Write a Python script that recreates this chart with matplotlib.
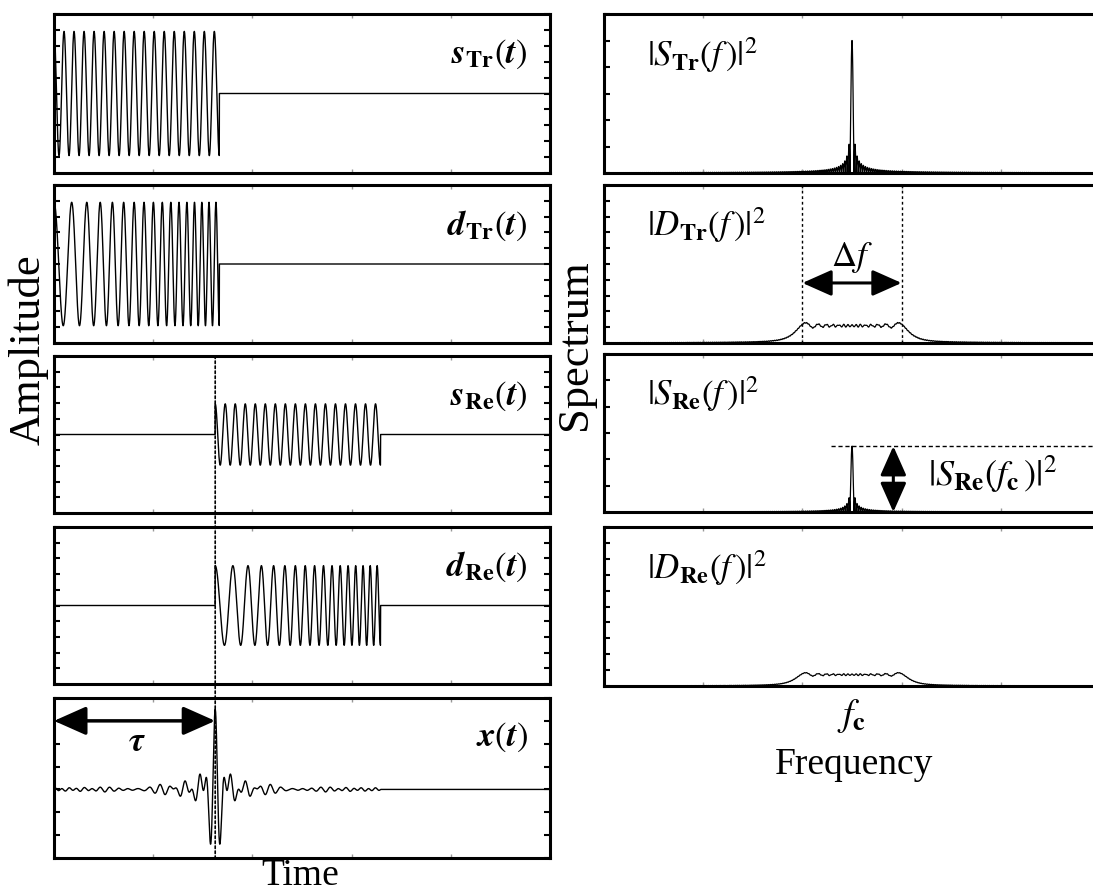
import numpy as np
import matplotlib
matplotlib.use("Agg")
import matplotlib.pyplot as plt
from matplotlib.patches import ConnectionPatch
from matplotlib.transforms import blended_transform_factory

plt.rcParams["font.family"] = ["Liberation Serif", "DejaVu Serif"]
plt.rcParams["mathtext.fontset"] = "stix"

# Pulse parameters, time axis runs from 0 to 1.
t_pulse = 1 / 3
f_carrier = 49.5
chirp_bw = 48.0
delay = 0.325
amp_echo_s = 0.5
amp_echo_d = 0.65

# Spectrum panels: frequency offset from the carrier in units of 1/T.
bt_spectrum = 58
delta_f_mark = 48
freq_span = 120

time_labels = [r"$\mathbfit{s}_{\mathbf{Tr}}(\mathbfit{t})$",
               r"$\mathbfit{d}_{\mathbf{Tr}}(\mathbfit{t})$",
               r"$\mathbfit{s}_{\mathbf{Re}}(\mathbfit{t})$",
               r"$\mathbfit{d}_{\mathbf{Re}}(\mathbfit{t})$",
               r"$\mathbfit{x}(\mathbfit{t})$"]
spec_labels = [r"$|S_{\mathbf{Tr}}(f\,)|^2$",
               r"$|D_{\mathbf{Tr}}(f\,)|^2$",
               r"$|S_{\mathbf{Re}}(f\,)|^2$",
               r"$|D_{\mathbf{Re}}(f\,)|^2$"]


def tone(t):
    on = (t >= 0) & (t < t_pulse)
    return np.where(on, np.cos(2 * np.pi * f_carrier * t), 0.0)


def chirp(t):
    on = (t >= 0) & (t < t_pulse)
    f0 = f_carrier - chirp_bw / 2
    phase = 2 * np.pi * (f0 * t + chirp_bw / (2 * t_pulse) * t ** 2)
    return np.where(on, np.cos(phase), 0.0)


def baseband_spectrum(envelope, fs, n_fft):
    spec = np.fft.fftshift(np.fft.fft(envelope, n_fft)) / fs
    freq = np.fft.fftshift(np.fft.fftfreq(n_fft, 1 / fs))
    keep = np.abs(freq) <= freq_span + 2
    return freq[keep], np.abs(spec[keep])


# Time signals
t = np.linspace(0, 1, 6001)
s_tr = tone(t)
d_tr = chirp(t)
s_re = amp_echo_s * tone(t - delay)
d_re = amp_echo_d * chirp(t - delay)
x_out = np.correlate(d_re, d_tr, mode="full")[len(t) - 1:] / np.sum(d_tr ** 2)

# Spectra of the complex envelopes
fs = 512
tb = (np.arange(fs) + 0.5) / fs - 0.5
freq, S_tr = baseband_spectrum(np.ones(fs), fs, 2 ** 15)
_, D_tr = baseband_spectrum(np.exp(1j * np.pi * bt_spectrum * tb ** 2), fs, 2 ** 15)
S_re = amp_echo_s * S_tr
D_re = amp_echo_d * D_tr

fig = plt.figure(figsize=(10.93, 8.95), dpi=100)
W, H = 1093, 895
rows = [(15, 174), (186, 344), (357, 514), (528, 685), (699, 859)]
arrow_style = "<|-|>,head_length=0.9,head_width=0.4"


def make_axes(x_left, top, bottom):
    return fig.add_axes([x_left / W, 1 - bottom / H, 496 / W, (bottom - top) / H])


def style(ax, yticks, xticks):
    for sp in ax.spines.values():
        sp.set_linewidth(2.2)
    ax.set_yticks(yticks)
    ax.set_xticks(xticks)
    ax.tick_params(axis="y", direction="in", length=4, width=1.5,
                   left=True, right=True, labelleft=False)
    ax.tick_params(axis="x", direction="in", length=3, width=1, color="0.6",
                   top=True, bottom=True, labelbottom=False)


time_sigs = [s_tr, d_tr, s_re, d_re]
time_axes = []
for i, sig in enumerate(time_sigs):
    ax = make_axes(54, *rows[i])
    ax.plot(t, sig, color="k", lw=1.0)
    ax.set_xlim(0, 1)
    ax.set_ylim(-1.28, 1.28)
    style(ax, np.linspace(-1.28, 1.28, 11), np.linspace(0, 1, 6))
    ax.text(0.955, 0.75, time_labels[i], transform=ax.transAxes,
            ha="right", va="center", fontsize=25)
    time_axes.append(ax)

# Compressed output
step = 0.185
ax5 = make_axes(54, *rows[4])
ax5.plot(t, x_out, color="k", lw=1.0)
ax5.set_xlim(0, 1)
ax5.set_ylim(-3 * step, 4 * step)
style(ax5, np.arange(-3, 5) * step, np.linspace(0, 1, 6))
ax5.text(0.955, 0.76, time_labels[4], transform=ax5.transAxes,
         ha="right", va="center", fontsize=25)
ax5.annotate("", xy=(0, 0.555), xytext=(delay, 0.555),
             arrowprops=dict(arrowstyle=arrow_style, mutation_scale=22, lw=2.5,
                             color="k", shrinkA=0, shrinkB=0))
ax5.text(0.167, 0.39, r"$\boldsymbol{\tau}$", ha="center", va="center", fontsize=25)

con = ConnectionPatch(xyA=(delay, 1.28), coordsA="data", axesA=time_axes[2],
                      xyB=(delay, -3 * step), coordsB="data", axesB=ax5,
                      color="k", lw=1.2, linestyle=(0, (1.5, 1.5)))
fig.add_artist(con)

# Spectra
spec_sigs = [S_tr, D_tr, S_re, D_re]
spec_rows = [(15, 174), (186, 344), (355, 513), (528, 687)]
spec_axes = []
for i, sp in enumerate(spec_sigs):
    ax = make_axes(604, *spec_rows[i])
    ax.plot(freq, sp, color="k", lw=0.9)
    ax.set_xlim(-freq_span, freq_span)
    ax.set_ylim(0, 1.2)
    yt = np.linspace(0, 1.2, 7) if i in (0, 2) else np.linspace(0, 1.2, 11)
    style(ax, yt, np.linspace(-freq_span, freq_span, 6))
    ax.text(0.087, 0.75, spec_labels[i], transform=ax.transAxes,
            ha="left", va="center", fontsize=25)
    spec_axes.append(ax)

# Bandwidth marks
ax2 = spec_axes[1]
for edge in (-delta_f_mark / 2, delta_f_mark / 2):
    ax2.axvline(edge, color="k", lw=1.0, linestyle=(0, (2, 2)))
ax2.annotate("", xy=(-delta_f_mark / 2, 0.456), xytext=(delta_f_mark / 2, 0.456),
             arrowprops=dict(arrowstyle=arrow_style, mutation_scale=20, lw=2.2,
                             color="k", shrinkA=0, shrinkB=0))
ax2.text(0, 0.66, r"$\Delta f$", ha="center", va="center", fontsize=25)

# Peak level of the received tone
ax3 = spec_axes[2]
peak = S_re.max()
ax3.plot([-10, freq_span], [peak, peak], color="k", lw=1.0, linestyle=(0, (3, 2)))
ax3.annotate("", xy=(20, 0), xytext=(20, peak),
             arrowprops=dict(arrowstyle=arrow_style, mutation_scale=20, lw=2.2,
                             color="k", shrinkA=0, shrinkB=0))
ax3.text(37, 0.29, r"$|S_{\mathbf{Re}}(f_{\mathbf{c}}\,)|^2$",
         ha="left", va="center", fontsize=26)

# Axis titles
fig.text(28 / W, 1 - 350 / H, "Amplitude", rotation=90, ha="center", va="center", fontsize=32)
fig.text(575 / W, 1 - 345 / H, "Spectrum", rotation=90, ha="center", va="center", fontsize=32)
fig.text(300 / W, 1 - 876 / H, "Time", ha="center", va="center", fontsize=27)
fig.text(854 / W, 1 - 765 / H, "Frequency", ha="center", va="center", fontsize=27)
trans = blended_transform_factory(spec_axes[3].transData, fig.transFigure)
fig.text(0, 1 - 716 / H, r"$f_{\mathbf{c}}$", transform=trans,
         ha="center", va="center", fontsize=27)

fig.savefig("out.png", dpi=100)
